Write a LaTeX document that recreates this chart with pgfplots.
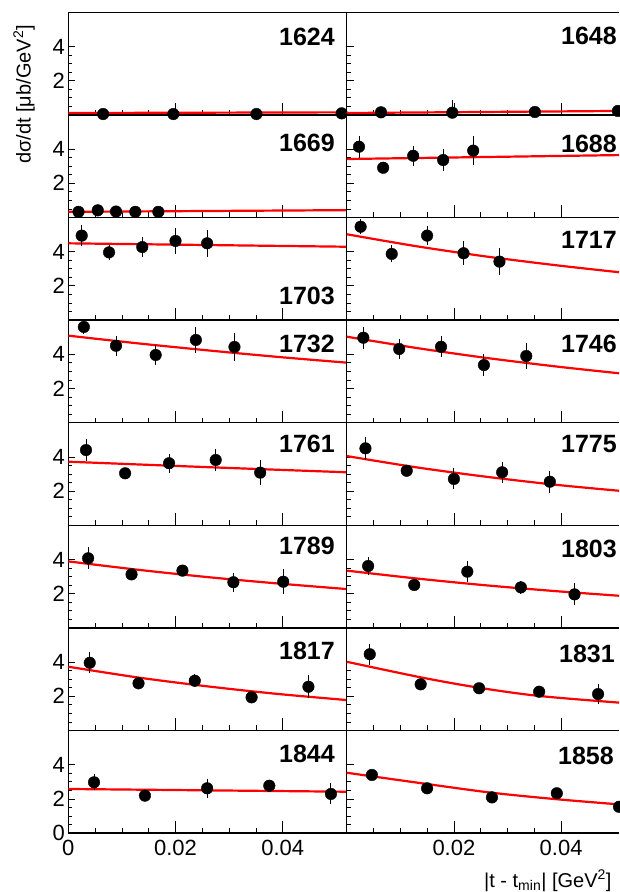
\documentclass[border=0pt]{standalone}
\usepackage{pgfplots}
\pgfplotsset{compat=1.18}
\usepackage{fontspec}
\setmainfont{Liberation Sans}
\newcommand\lbl{\fontsize{25}{25}\selectfont\bfseries}
\pgfplotsset{
  panel/.style={
    anchor=south west, scale only axis, height=102.6pt,
    ymin=0, ymax=6, xmin=0,
    scaled x ticks=false, scaled y ticks=false,
    axis line style={line width=1.3pt, black},
    tick align=inside, xtick pos=bottom, ytick pos=left,
    xtick={0,0.02,0.04}, minor x tick num=3,
    ytick={0,2,4}, minor y tick num=3,
    xticklabels={{},{},{}}, yticklabels={{},{},{}},
    tick style={black, line width=0.8pt},
    xtick style={/pgfplots/major tick length=12pt, /pgfplots/minor tick length=5pt},
    ytick style={/pgfplots/major tick length=7pt, /pgfplots/minor tick length=4pt},
    tick label style={font=\fontsize{22}{22}\selectfont},
    xticklabel style={yshift=-4pt},
  },
  leftcol/.style={width=278.4pt, xmax=0.05194, yticklabels={{},2,4}},
  rightcol/.style={width=272.3pt, xmax=0.0508, axis x line*=box, axis y line*=left},
  fit/.style={red, line width=2.2pt, no marks, smooth},
  pts/.style={only marks, mark=*, mark size=5.8pt, black,
    error bars/.cd, y dir=both, y explicit,
    error bar style={line width=0.9pt, black},
    error mark options={line width=0.9pt, mark size=3pt, black}},
}
\tikzset{lab/.style={anchor=north east, inner sep=0pt, font=\lbl}}
\begin{document}
\begin{tikzpicture}
\path[use as bounding box] (0pt,0pt) rectangle (619pt,892pt);
% ---------- row 1
\begin{axis}[panel, leftcol, at={(68.3pt,777.1pt)}]
\addplot[fit] coordinates {(0,0.11) (0.052,0.15)};
\addplot[pts] coordinates {(0.0065,0.05) +- (0,0) (0.0196,0.05) +- (0,0) (0.0351,0.05) +- (0,0) (0.0510,0.09) +- (0,0)};
\node[lab, xshift=-11.7pt, yshift=-16pt] at (rel axis cs:1,1) {1624};
\end{axis}
\begin{axis}[panel, rightcol, at={(346.7pt,777.1pt)}]
\addplot[fit] coordinates {(0,0.11) (0.0508,0.23)};
\addplot[pts] coordinates {(0.0064,0.15) +- (0,0) (0.0197,0.13) +- (0,0.58) (0.0351,0.17) +- (0,0) (0.0506,0.23) +- (0,0)};
\node[lab, xshift=-2pt, yshift=-14.5pt] at (rel axis cs:1,1) {1648};
\end{axis}
% ---------- row 2
\begin{axis}[panel, leftcol, at={(68.3pt,674.5pt)}]
\addplot[fit] coordinates {(0,0.33) (0.052,0.43)};
\addplot[pts] coordinates {(0.0019,0.33) +- (0,0) (0.0055,0.42) +- (0,0) (0.0089,0.35) +- (0,0) (0.0125,0.33) +- (0,0) (0.0168,0.33) +- (0,0)};
\node[lab, xshift=-11.7pt, yshift=-19pt] at (rel axis cs:1,1) {1669};
\end{axis}
\begin{axis}[panel, rightcol, at={(346.7pt,674.5pt)}]
\addplot[fit] coordinates {(0,3.42) (0.0508,3.65)};
\addplot[pts] coordinates {(0.0023,4.14) +- (0,0.46) (0.0068,2.91) +- (0,0) (0.0124,3.61) +- (0,0.42) (0.0180,3.36) +- (0,0.49) (0.0236,3.91) +- (0,0.68)};
\node[lab, xshift=-2pt, yshift=-20pt] at (rel axis cs:1,1) {1688};
\end{axis}
% ---------- row 3
\begin{axis}[panel, leftcol, at={(68.3pt,571.9pt)}]
\addplot[fit] coordinates {(0,4.49) (0.026,4.39) (0.052,4.29)};
\addplot[pts] coordinates {(0.0025,4.94) +- (0,0.46) (0.0076,3.96) +- (0,0.25) (0.0138,4.27) +- (0,0.43) (0.0200,4.63) +- (0,0.56) (0.0259,4.49) +- (0,0.63)};
\node[lab, anchor=south east, xshift=-11.7pt, yshift=15pt] at (rel axis cs:1,0) {1703};
\end{axis}
\begin{axis}[panel, rightcol, at={(346.7pt,571.9pt)}]
\addplot[fit] coordinates {(0,5.02) (0.013,4.32) (0.026,3.72) (0.039,3.21) (0.0508,2.80)};
\addplot[pts] coordinates {(0.0026,5.46) +- (0,0.25) (0.0084,3.87) +- (0,0.32) (0.0150,4.94) +- (0,0.37) (0.0218,3.91) +- (0,0.52) (0.0285,3.42) +- (0,0.63)};
\node[lab, xshift=-2pt, yshift=-14pt] at (rel axis cs:1,1) {1717};
\end{axis}
% ---------- row 4
\begin{axis}[panel, leftcol, at={(68.3pt,469.3pt)}]
\addplot[fit] coordinates {(0,5.09) (0.013,4.64) (0.026,4.23) (0.039,3.85) (0.052,3.51)};
\addplot[pts] coordinates {(0.0029,5.60) +- (0,0.25) (0.0089,4.50) +- (0,0.42) (0.0163,3.96) +- (0,0.41) (0.0238,4.84) +- (0,0.56) (0.0310,4.43) +- (0,0.65)};
\node[lab, xshift=-11.7pt, yshift=-15pt] at (rel axis cs:1,1) {1732};
\end{axis}
\begin{axis}[panel, rightcol, at={(346.7pt,469.3pt)}]
\addplot[fit] coordinates {(0,5.03) (0.013,4.37) (0.026,3.79) (0.039,3.29) (0.0508,2.89)};
\addplot[pts] coordinates {(0.0031,4.97) +- (0,0.47) (0.0098,4.31) +- (0,0.39) (0.0176,4.44) +- (0,0.43) (0.0256,3.37) +- (0,0.45) (0.0335,3.90) +- (0,0.61)};
\node[lab, xshift=-2pt, yshift=-15pt] at (rel axis cs:1,1) {1746};
\end{axis}
% ---------- row 5
\begin{axis}[panel, leftcol, at={(68.3pt,366.7pt)}]
\addplot[fit] coordinates {(0,3.72) (0.026,3.40) (0.052,3.10)};
\addplot[pts] coordinates {(0.0033,4.40) +- (0,0.49) (0.0106,3.04) +- (0,0) (0.0188,3.63) +- (0,0.39) (0.0275,3.82) +- (0,0.47) (0.0358,3.08) +- (0,0.54)};
\node[lab, xshift=-11.7pt, yshift=-12.5pt] at (rel axis cs:1,1) {1761};
\end{axis}
\begin{axis}[panel, rightcol, at={(346.7pt,366.7pt)}]
\addplot[fit] coordinates {(0,4.05) (0.013,3.39) (0.026,2.84) (0.039,2.37) (0.0508,2.02)};
\addplot[pts] coordinates {(0.0035,4.50) +- (0,0.49) (0.0112,3.19) +- (0,0) (0.0200,2.71) +- (0,0.44) (0.0290,3.10) +- (0,0.44) (0.0379,2.55) +- (0,0.47)};
\node[lab, xshift=-2pt, yshift=-12.5pt] at (rel axis cs:1,1) {1775};
\end{axis}
% ---------- row 6
\begin{axis}[panel, leftcol, at={(68.3pt,264.1pt)}]
\addplot[fit] coordinates {(0,3.89) (0.013,3.40) (0.026,2.97) (0.039,2.60) (0.052,2.27)};
\addplot[pts] coordinates {(0.0037,4.07) +- (0,0.46) (0.0118,3.13) +- (0,0) (0.0213,3.35) +- (0,0) (0.0308,2.67) +- (0,0.39) (0.0401,2.70) +- (0,0.56)};
\node[lab, xshift=-11.7pt, yshift=-11.5pt] at (rel axis cs:1,1) {1789};
\end{axis}
\begin{axis}[panel, rightcol, at={(346.7pt,264.1pt)}]
\addplot[fit] coordinates {(0,3.35) (0.013,2.89) (0.026,2.49) (0.039,2.15) (0.0508,1.88)};
\addplot[pts] coordinates {(0.0040,3.62) +- (0,0.37) (0.0126,2.51) +- (0,0) (0.0225,3.29) +- (0,0.44) (0.0325,2.37) +- (0,0.2) (0.0425,1.96) +- (0,0.47)};
\node[lab, xshift=-2pt, yshift=-14.5pt] at (rel axis cs:1,1) {1803};
\end{axis}
% ---------- row 7
\begin{axis}[panel, leftcol, at={(68.3pt,161.5pt)}]
\addplot[fit] coordinates {(0,3.73) (0.013,3.10) (0.026,2.58) (0.039,2.14) (0.052,1.78)};
\addplot[pts] coordinates {(0.0040,3.96) +- (0,0.44) (0.0131,2.76) +- (0,0) (0.0236,2.91) +- (0,0.2) (0.0342,1.94) +- (0,0) (0.0448,2.56) +- (0,0.49)};
\node[lab, xshift=-11.7pt, yshift=-14pt] at (rel axis cs:1,1) {1817};
\end{axis}
\begin{axis}[panel, rightcol, at={(346.7pt,161.5pt)}]
\addplot[fit] coordinates {(0,4.02) (0.0138,3.11) (0.0247,2.50) (0.0359,2.02) (0.0508,1.63)};
\addplot[pts] coordinates {(0.0043,4.46) +- (0,0.44) (0.0138,2.70) +- (0,0) (0.0247,2.47) +- (0,0) (0.0359,2.27) +- (0,0) (0.0469,2.13) +- (0,0.39)};
\node[lab, xshift=-4pt, yshift=-17pt] at (rel axis cs:1,1) {1831};
\end{axis}
% ---------- row 8
\begin{axis}[panel, leftcol, at={(68.3pt,58.9pt)}, xticklabels={0,0.02,0.04}, yticklabels={0,2,4}]
\addplot[fit] coordinates {(0,2.58) (0.026,2.50) (0.052,2.42)};
\addplot[pts] coordinates {(0.0048,2.97) +- (0,0.3) (0.0143,2.19) +- (0,0) (0.0259,2.62) +- (0,0.39) (0.0375,2.77) +- (0,0) (0.0490,2.29) +- (0,0.44)};
\node[lab, xshift=-11.7pt, yshift=-14.5pt] at (rel axis cs:1,1) {1844};
\end{axis}
\begin{axis}[panel, rightcol, at={(346.7pt,58.9pt)}, xticklabels={{},0.02,0.04}]
\addplot[fit] coordinates {(0,3.53) (0.0150,2.87) (0.0271,2.36) (0.0392,1.98) (0.0508,1.68)};
\addplot[pts] coordinates {(0.0047,3.40) +- (0,0) (0.0150,2.62) +- (0,0) (0.0271,2.09) +- (0,0) (0.0392,2.33) +- (0,0) (0.0508,1.54) +- (0,0)};
\node[lab, xshift=-5pt, yshift=-16pt] at (rel axis cs:1,1) {1858};
\end{axis}
% ---------- axis titles
\node[rotate=90, font=\fontsize{20}{20}\selectfont] at (24pt,797.5pt) {dσ/dt [μb/GeV\textsuperscript{2}]};
\node[anchor=base east, font=\fontsize{20}{20}\selectfont] at (615pt,4.5pt) {|t - t\textsubscript{min}| [GeV\textsuperscript{2}]};
\end{tikzpicture}
\end{document}
